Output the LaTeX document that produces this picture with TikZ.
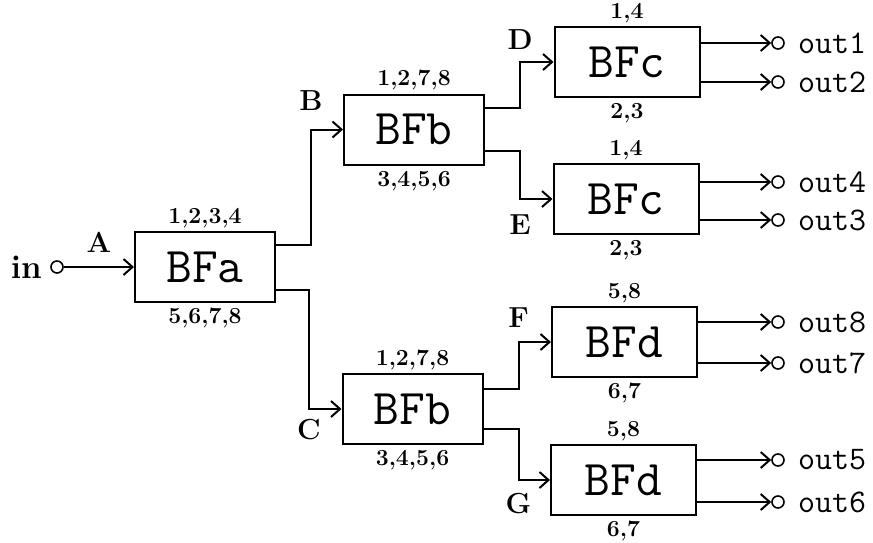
\documentclass[tikz,border=0pt]{standalone}
\usepackage{fontspec}
\usetikzlibrary{arrows.meta,positioning,calc}
\tikzset{
  bfbox/.style={draw,line width=1pt,minimum width=70pt,minimum height=35pt,font=\fontsize{25}{25}\selectfont\ttfamily},
  sig/.style={-{Straight Barb[length=4.5pt,width=8pt,line width=1pt]},line width=1pt},
  port/.style={circle,draw,line width=0.8pt,inner sep=0pt,minimum size=6pt},
  chan/.style={font=\fontsize{14.5}{14.5}\selectfont\bfseries,inner sep=2pt},
  idx/.style={font=\fontsize{11.5}{11.5}\selectfont\bfseries,inner sep=1.5pt},
  outlbl/.style={font=\fontsize{16.5}{16.5}\selectfont\ttfamily,inner sep=1pt}
}

\begin{document}
\begin{tikzpicture}[x=0.5pt,y=0.5pt]
  \useasboundingbox (0,0) rectangle (873,-542);
  % butterfly stages
  \node[bfbox] (a)  at (205,-267)   {BFa};
  \node[bfbox] (b1) at (414,-129.5) {BFb};
  \node[bfbox] (b2) at (412.5,-409) {BFb};
  \node[bfbox,minimum width=72.5pt] (c1) at (627,-62)    {BFc};
  \node[bfbox,minimum width=72.5pt] (c2) at (626,-199)   {BFc};
  \node[bfbox,minimum width=72.5pt] (d1) at (624.5,-342) {BFd};
  \node[bfbox,minimum width=72.5pt] (d2) at (623.5,-480) {BFd};
  % index sets
  \foreach \blk/\top/\bot in {a/{1,2,3,4}/{5,6,7,8}, b1/{1,2,7,8}/{3,4,5,6}, b2/{1,2,7,8}/{3,4,5,6},
      c1/{1,4}/{2,3}, c2/{1,4}/{2,3}, d1/{5,8}/{6,7}, d2/{5,8}/{6,7}} {
    \node[idx,above=0pt of \blk] {\top};
    \node[idx,below=1pt of \blk] {\bot};
  }
  % input
  \node[port] (inp) at (57,-267) {};
  \node[font=\fontsize{16.5}{16.5}\selectfont\bfseries,inner sep=1pt,left=3pt of inp] {in};
  \draw[sig] (inp) -- node[chan,above=5pt] {A} (a.west);
  % stage connections
  \draw[sig] ($(a.east)+(0,22)$) -- ++(35,0) |- node[chan,above=7pt] {B} (b1.west);
  \draw[sig] ($(a.east)+(0,-23)$) -- ++(33,0) |- node[chan,below=2.5pt] {C} (b2.west);
  \draw[sig] ($(b1.east)+(0,21.5)$) -- ++(35,0) |- node[chan,above=4pt] {D} (c1.west);
  \draw[sig] ($(b1.east)+(0,-21.5)$) -- ++(35,0) |- node[chan,below=5.5pt] {E} (c2.west);
  \draw[sig] ($(b2.east)+(0,20)$) -- ++(35,0) |- node[chan,above=5pt] {F} (d1.west);
  \draw[sig] ($(b2.east)+(0,-20)$) -- ++(35,0) |- node[chan,below=4pt] {G} (d2.west);
  % outputs
  \foreach \blk/\y/\name in {c1/43/out1, c1/82/out2, c2/182/out4, c2/220/out3,
      d1/322/out8, d1/363/out7, d2/460/out5, d2/502/out6} {
    \node[port] (p\name) at (778,-\y) {};
    \node[outlbl,right=5.5pt of p\name] {\name};
    \draw[sig] (p\name -| \blk.east) -- (p\name);
  }
\end{tikzpicture}
\end{document}
